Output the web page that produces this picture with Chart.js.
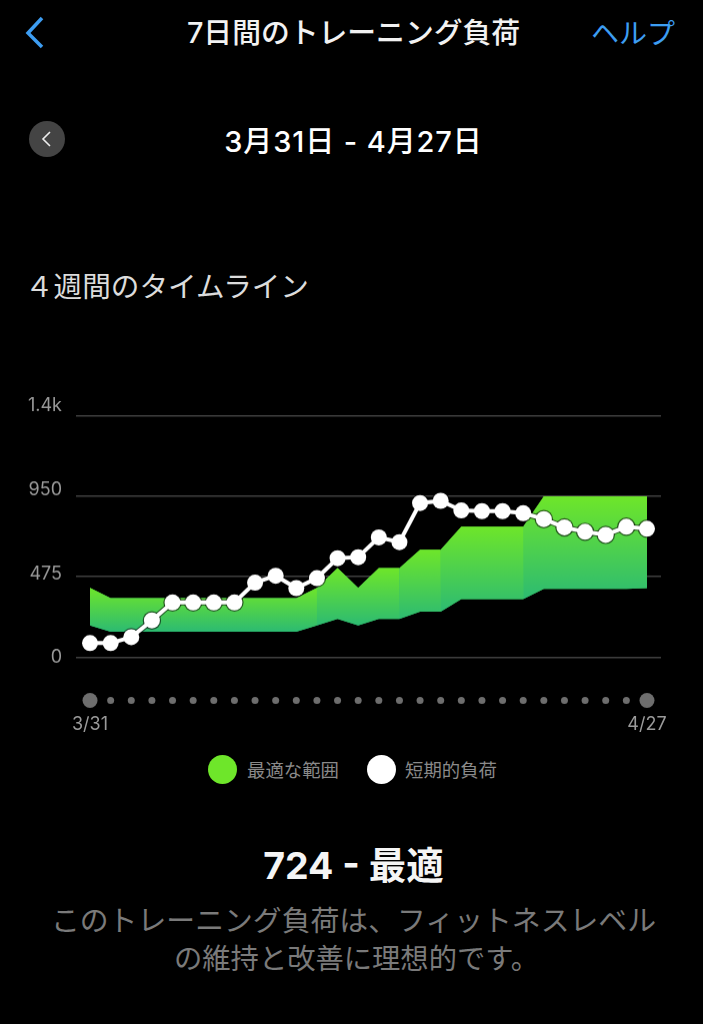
<!DOCTYPE html>
<html lang="ja">
<head>
<meta charset="utf-8">
<title>7日間のトレーニング負荷</title>
<script src="https://cdn.jsdelivr.net/npm/chart.js@4/dist/chart.umd.min.js"></script>
<style>
  html, body { margin: 0; background: #000; }
  body { position: relative; width: 703px; height: 1024px; overflow: hidden; font-family: Inter, "Noto Sans CJK JP", sans-serif; }
  .txt { position: absolute; white-space: nowrap; line-height: 1; }
  .center { left: 2px; width: 703px; text-align: center; }
  #chartBox { position: absolute; left: 0; top: 390px; width: 703px; height: 342.5px; }
  .dot { position: absolute; top: 755px; width: 29px; height: 29px; border-radius: 50%; }
</style>
</head>
<body>
<svg class="txt" style="left:22px;top:14px" width="26" height="36"><polyline points="20,4 6,19 20,33" fill="none" stroke="#3d9df2" stroke-width="3.5"/></svg>
<div class="txt center" style="top:19px;font-size:28.8px;font-weight:500;color:#f2f2f2">7日間のトレーニング負荷</div>
<div class="txt" style="left:591px;top:20px;font-size:28px;color:#3d9df2">ヘルプ</div>

<svg class="txt" style="left:29px;top:121px" width="36" height="36"><circle cx="18" cy="18" r="18" fill="#444"/><polyline points="21,11 14,18 21,25" fill="none" stroke="#eee" stroke-width="1.6"/></svg>
<div class="txt center" style="top:127px;font-size:29px;font-weight:500;letter-spacing:0.9px;color:#fff">3月31日 - 4月27日</div>

<div class="txt" style="left:25px;top:273px;font-size:28.6px;color:#dcdcdc">４週間のタイムライン</div>

<div id="chartBox"><canvas id="loadChart"></canvas></div>

<div class="dot" style="left:208px;background:#6ee62a"></div>
<div class="txt" style="left:247px;top:761px;font-size:18.4px;color:#8a8a8a">最適な範囲</div>
<div class="dot" style="left:367px;background:#fff"></div>
<div class="txt" style="left:405px;top:761px;font-size:18.4px;color:#8a8a8a">短期的負荷</div>

<div class="txt center" style="top:847px;font-size:37.5px;font-weight:700;color:#f5f5f5">724 - 最適</div>
<div class="txt center" style="top:907px;font-size:28.85px;color:#7a7a7a">このトレーニング負荷は、フィットネスレベル</div>
<div class="txt center" style="top:945px;font-size:28.3px;padding-left:6px;width:697px;color:#7a7a7a">の維持と改善に理想的です。</div>

<script>
const dates = ["3/31","4/1","4/2","4/3","4/4","4/5","4/6","4/7","4/8","4/9","4/10","4/11","4/12","4/13",
  "4/14","4/15","4/16","4/17","4/18","4/19","4/20","4/21","4/22","4/23","4/24","4/25","4/26","4/27"];
const shortTermLoad = [83,83,118,217,323,323,323,323,440,481,408,467,585,591,708,680,911,924,867,863,863,851,816,767,741,723,771,759];
const rangeUpper = [410,349,349,349,349,349,349,349,349,349,349,410,526,410,526,526,635,635,771,771,771,771,950,950,950,950,950,950];
const rangeLower = [187,150,150,150,150,150,150,150,150,150,150,187,225,187,225,225,268,268,343,343,343,343,404,404,404,404,404,408];
const tickValues = [0,475,950,1425];
const tickLabels = ["0","475","950","1.4k"];
const tickLift = [0,3,7,10];       // y labels drift above their lines
const bandEdges = [[0,27],[0,11],[11,15],[15,17],[17,21],[21,27]];  // first one is a base so the joins don't show black
const dotRow = -256;               // day markers under the plot

const pts = (arr, a, b) => arr.slice(a, b + 1).map((v, i) => ({ x: a + i, y: v }));

const bandDatasets = [];
bandEdges.forEach(([a, b], n) => {
  const hi = Math.max(...rangeUpper.slice(a, b + 1));
  const lo = Math.min(...rangeLower.slice(a, b + 1));
  const order = n === 0 ? 4 : 3;
  bandDatasets.push({ label: "lower", data: pts(rangeLower, a, b), borderWidth: 0, pointRadius: 0, fill: false, order });
  bandDatasets.push({
    label: "最適な範囲",
    data: pts(rangeUpper, a, b),
    borderWidth: 0,
    pointRadius: 0,
    fill: "-1",
    order,
    backgroundColor: ctx => {
      const y = ctx.chart.scales.y;
      const top = y ? y.getPixelForValue(hi) : NaN;
      const bottom = y ? y.getPixelForValue(lo) : NaN;
      // scale has no size yet on the very first pass
      if (!isFinite(top) || !isFinite(bottom)) return "#4fd050";
      const g = ctx.chart.ctx.createLinearGradient(0, top, 0, bottom);
      g.addColorStop(0, "#6ee62a");
      g.addColorStop(1, "#2dbb72");
      return g;
    }
  });
});

// y labels sit a little above their grid lines, so they are drawn here
const yLabelPlugin = {
  id: "yLabels",
  afterDraw(chart) {
    const c = chart.ctx, y = chart.scales.y;
    c.save();
    c.font = '18px Inter, "Noto Sans CJK JP"';
    c.fillStyle = "#9a9a9a";
    c.textAlign = "right";
    c.textBaseline = "middle";
    tickValues.forEach((v, i) => c.fillText(tickLabels[i], 62, y.getPixelForValue(v) - tickLift[i]));
    c.restore();
  }
};

new Chart(document.getElementById("loadChart"), {
  type: "line",
  plugins: [yLabelPlugin],
  data: {
    datasets: [
      {
        label: "短期的負荷",
        data: pts(shortTermLoad, 0, 27),
        borderColor: "#fff",
        borderWidth: 4,
        backgroundColor: "#fff",
        pointBackgroundColor: "#fff",
        pointBorderWidth: 0,
        pointRadius: 8,
        fill: false,
        order: 0,
        clip: false
      },
      {
        // thin dark halo around the white line where it crosses the green
        label: "halo",
        data: pts(shortTermLoad, 0, 27),
        borderColor: "rgba(0,0,0,0.6)",
        borderWidth: 6,
        pointBackgroundColor: "rgba(0,0,0,0.6)",
        pointBorderWidth: 0,
        pointRadius: 9.2,
        fill: false,
        order: 1,
        clip: false
      },
      {
        label: "days",
        data: pts(dates.map(() => dotRow), 0, 27),
        showLine: false,
        pointBackgroundColor: "#6e6e6e",
        pointBorderWidth: 0,
        pointRadius: c => (c.dataIndex === 0 || c.dataIndex === 27) ? 7.5 : 3.5,
        order: 2,
        clip: false
      },
      ...bandDatasets
    ]
  },
  options: {
    responsive: true,
    maintainAspectRatio: false,
    animation: false,
    layout: { padding: { left: 76, right: 42, top: 26, bottom: 0 } },
    plugins: { legend: { display: false }, tooltip: { enabled: false } },
    scales: {
      x: {
        type: "linear",
        min: -0.68,
        max: 27.68,
        grid: { display: false },
        border: { display: false },
        afterBuildTicks: s => { s.ticks = [{ value: 0 }, { value: 27 }]; },
        ticks: {
          autoSkip: false,
          maxRotation: 0,
          padding: -2,
          color: "#9a9a9a",
          font: { family: 'Inter, "Noto Sans CJK JP"', size: 18 },
          callback: v => dates[v]
        }
      },
      y: {
        min: -300,
        max: 1425,
        border: { display: false },
        grid: { color: "#404040", lineWidth: 1.5, drawTicks: false },
        ticks: { display: false },
        afterBuildTicks: s => { s.ticks = tickValues.map(v => ({ value: v })); }
      }
    }
  }
});
</script>
</body>
</html>
